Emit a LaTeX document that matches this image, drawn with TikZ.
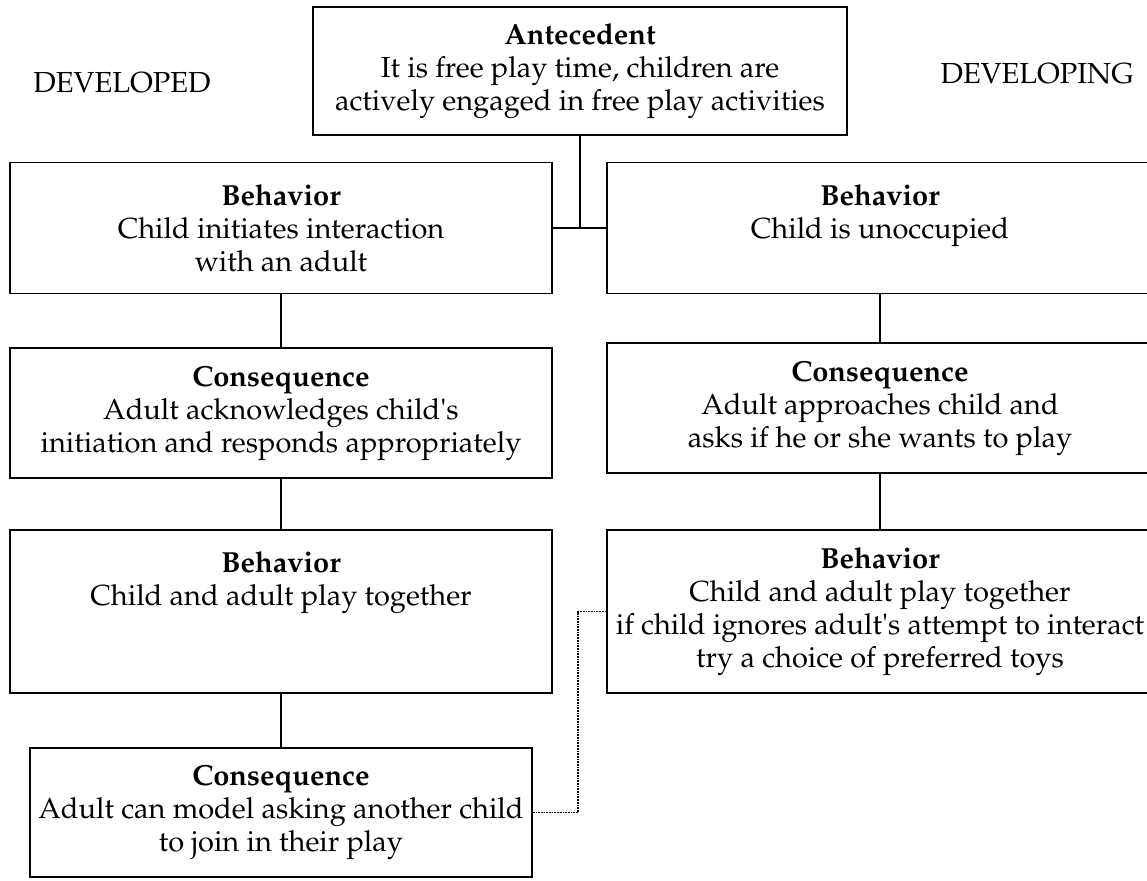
\documentclass[tikz,border=0pt]{standalone}
\usepackage[T1]{fontenc}
\usepackage{mathpazo}
\usepackage{textcomp}
\newcommand{\apos}{\textquotesingle}
\tikzset{
  box/.style={draw, line width=1.6pt, align=center, inner sep=0pt,
    font=\fontsize{29}{33}\selectfont},
  link/.style={line width=1.6pt},
  dotlink/.style={line width=1.7pt, densely dotted},
  side/.style={font=\fontsize{29}{33}\selectfont}
}

\begin{document}
\begin{tikzpicture}[x=1pt,y=-1pt]
\useasboundingbox (0,0) rectangle (1147,880);
\node[side] (developed) at (122,83) {DEVELOPED};
\node[side] (developing) at (1037,74) {DEVELOPING};
\node[box, minimum width=534pt, minimum height=128pt] (ante) at (580,71) {\textbf{Antecedent}\\It is free play time, children are\\actively engaged in free play activities};
% left column
\node[box, minimum width=542pt, minimum height=131pt] (lbeh) at (281,228) {\textbf{Behavior}\\Child initiates interaction\\with an adult};
\node[box, minimum width=542pt, minimum height=130pt] (lcons) at (281,413) {\textbf{Consequence}\\Adult acknowledges child\apos s\\initiation and responds appropriately};
\node[box, minimum width=542pt, minimum height=163pt] (lbeh2) at (281,611.5) {\textbf{Behavior}\\Child and adult play together\\\mbox{}\\\mbox{}};
\node[box, minimum width=502pt, minimum height=129pt] (lcons2) at (281,812.5) {\textbf{Consequence}\\Adult can model asking another child\\to join in their play};
% right column
\node[box, minimum width=546pt, minimum height=131pt] (rbeh) at (880,228) {\textbf{Behavior}\\Child is unoccupied\\\mbox{}};
\node[box, minimum width=546pt, minimum height=130pt] (rcons) at (880,408) {\textbf{Consequence}\\Adult approaches child and\\asks if he or she wants to play};
\node[box, minimum width=546pt, minimum height=163pt] (rbeh2) at (880,611.5) {\textbf{Behavior}\\Child and adult play together\\if child ignores adult\apos s attempt to interact\\try a choice of preferred toys};
% connectors
\draw[link] (ante.south) -- (ante.south |- lbeh.east);
\draw[link] (lbeh.east) -- (rbeh.west);
\draw[link] (lbeh.south) -- (lcons.north);
\draw[link] (lcons.south) -- (lbeh2.north);
\draw[link] (lbeh2.south) -- (lcons2.north);
\draw[link] (rbeh.south) -- (rcons.north);
\draw[link] (rcons.south) -- (rbeh2.north);
\draw[dotlink] (lcons2.east) -- ++(45,0) |- (rbeh2.west);
\end{tikzpicture}
\end{document}
